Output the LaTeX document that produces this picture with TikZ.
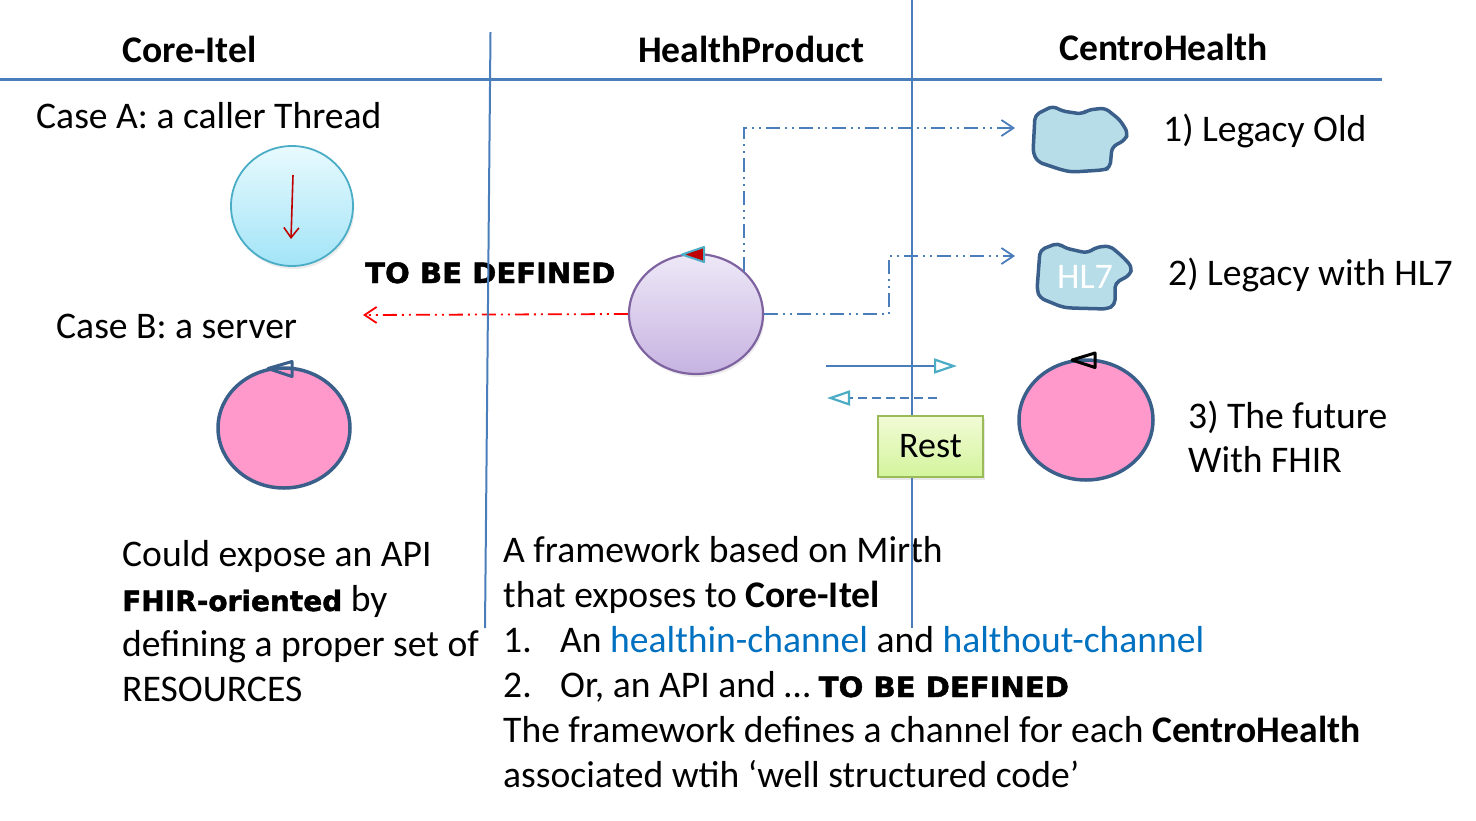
\documentclass[tikz,border=0pt]{standalone}
\usepackage{fontspec}
\setmainfont{Carlito}
\newfontfamily\blk{DejaVu Sans}[BoldFeatures={FakeBold=1.6}]
\usetikzlibrary{arrows.meta,shapes.geometric,shadows}
\definecolor{lineblue}{HTML}{4A7EBB}
\definecolor{tealc}{HTML}{4BACC6}
\definecolor{dkblue}{HTML}{3B5F8B}
\definecolor{pinkf}{HTML}{FF99CC}
\definecolor{cloudf}{HTML}{B7DEE8}
\definecolor{lavtop}{HTML}{EEE8F7}
\definecolor{lavbot}{HTML}{C6B3E1}
\definecolor{lavdraw}{HTML}{7E63A0}
\definecolor{cyantop}{HTML}{E8FAFE}
\definecolor{cyanbot}{HTML}{A2E4F7}
\definecolor{resttop}{HTML}{F2FBD6}
\definecolor{restbot}{HTML}{D3F49C}
\definecolor{restdraw}{HTML}{9BBB59}
\definecolor{linkblue}{HTML}{0070C0}
\definecolor{darkred}{HTML}{C00000}
\newcommand\txtsize{\fontsize{37.6}{45}\selectfont}
\newcommand\blksize{\fontsize{28}{34}\selectfont}
\newcommand\tbd{{\blk\bfseries\blksize\scalebox{1.04}[1]{TO BE DEFINED}}}
\tikzset{
  lbl/.style={anchor=base west, inner sep=0pt, font=\txtsize},
  head/.style={anchor=base west, inner sep=0pt, font=\txtsize\bfseries},
  sepline/.style={draw=lineblue, line width=2pt},
  pinkc/.style={ellipse, draw=dkblue, fill=pinkf, line width=3.5pt, minimum width=132pt, minimum height=120pt, inner sep=0pt},
  cyanc/.style={ellipse, draw=tealc, top color=cyantop, bottom color=cyanbot, line width=1.8pt, minimum width=122pt, minimum height=120pt, inner sep=0pt, drop shadow={opacity=0.15, shadow xshift=1.5pt, shadow yshift=-3pt}},
  lavc/.style={ellipse, draw=lavdraw, top color=lavtop, bottom color=lavbot, line width=2.2pt, minimum width=134pt, minimum height=120pt, inner sep=0pt, drop shadow={opacity=0.15, shadow xshift=1.5pt, shadow yshift=-3pt}},
  restbox/.style={rectangle, draw=restdraw, top color=resttop, bottom color=restbot, line width=2pt, minimum width=105pt, minimum height=61pt, inner sep=0pt, font=\fontsize{36}{40}\selectfont, drop shadow={opacity=0.18, shadow xshift=2pt, shadow yshift=-3pt}},
  cloud/.style={draw=dkblue, fill=cloudf, line width=3.5pt, rounded corners=5pt, line join=round},
  ddot/.style={line width=1.8pt, dash pattern=on 14pt off 5pt on 2pt off 5pt on 2pt off 5pt},
  barb/.style={-{Straight Barb[length=12pt,width=16pt,line width=1.8pt]}},
  tritip/.style={-{Triangle[length=23pt,width=15pt,color=tealc,fill=white,line width=2.2pt]}},
}
\begin{document}
\begin{tikzpicture}[x=1pt,y=-1pt]
\useasboundingbox (0,0) rectangle (1476,820);

% headings
\node[head] (h1) at (122,62) {Core-Itel};
\node[head] (h2) at (638,62) {HealthProduct};
\node[head] (h3) at (1059,60) {CentroHealth};

% left column
\node[lbl] (casea) at (36,128) {Case A: a caller Thread};
\node[cyanc] (ca) at (292,206) {};
\coordinate (ra1) at (293,175);
\coordinate (ra2) at (291,239);
\draw[darkred, line width=1.6pt, -{Straight Barb[length=10pt,width=15pt,line width=1.6pt]}] (ra1) -- (ra2);

\node[lbl] (caseb) at (56,338) {Case B: a server};
\node[pinkc] (cb) at (284,428) {};
\draw[dkblue, line width=3pt, line join=round] (268,368.5) -- (292,361.5) -- (292,376.5) -- cycle;

\node[lbl] (l1) at (122,566) {Could expose an API};
\node[lbl] (l2) at (122,611) {{\blk\bfseries\blksize FHIR-oriented} by};
\node[lbl] (l3) at (122,656) {defining a proper set of};
\node[lbl] (l4) at (122,701) {RESOURCES};

% middle
\node[anchor=base west, inner sep=0pt] (tbd1) at (365,283) {\tbd};
\node[lavc] (hp) at (696,314) {};
\draw[tealc, fill=darkred, line width=2pt, line join=round] (682,254.5) -- (704,247) -- (704,262) -- cycle;

\coordinate (redend) at (363,315);
\draw[red, ddot, barb] (hp.west) -- (redend);

\coordinate (leg1end) at (1015,128);
\coordinate (bend2) at (889,256);
\coordinate (leg2end) at (1015,256);
\draw[lineblue, ddot, barb] (hp.north east) |- (leg1end);
\draw[lineblue, ddot, barb] (hp.east) -| (bend2) -- (leg2end);

\node[lbl] (r1) at (503,562) {A framework based on Mirth};
\node[lbl] (r2) at (503,607) {that exposes to \textbf{Core-Itel}};
\node[lbl] (r3) at (503,652) {\makebox[57pt][l]{1.}An \textcolor{linkblue}{healthin-channel} and \textcolor{linkblue}{halthout-channel}};
\node[lbl] (r4) at (503,697) {\makebox[57pt][l]{2.}Or, an API and … \tbd};
\node[lbl] (r5) at (503,742) {The framework defines a channel for each \textbf{CentroHealth}};
\node[lbl] (r6) at (503,787) {associated wtih ‘well structured code’};

% separator lines
\coordinate (hl) at (0,79.5);
\coordinate (hr) at (1382,79.5);
\coordinate (v1t) at (490.5,32);
\coordinate (v1b) at (485,628);
\coordinate (v2t) at (912,0);
\coordinate (v2b) at (912,628);
\draw[sepline, line width=2.5pt] (hl) -- (hr);
\draw[sepline] (v1t) -- (v1b);
\draw[sepline] (v2t) -- (v2b);

% rest arrows
\coordinate (s1) at (826,366);
\coordinate (s2) at (957,366);
\coordinate (d1) at (937,398);
\coordinate (d2) at (827,398);
\draw[lineblue, line width=2pt, tritip] (s1) -- (s2);
\draw[lineblue, line width=2pt, dash pattern=on 9pt off 5pt, tritip] (d1) -- (d2);
\node[restbox] (rest) at (930.5,446.5) {Rest};

% right column
\draw[cloud] (1035,115) -- (1053,106) -- (1062,111) -- (1082,114) -- (1088,110) -- (1105,108) -- (1120,120) -- (1128,133) -- (1125,140) -- (1112,147) -- (1110,168) -- (1103,170) -- (1072,172) -- (1062,170) -- (1038,162) -- (1033,153) -- cycle;
\draw[cloud] (1040,250) -- (1058,243) -- (1065,248) -- (1087,253) -- (1097,247) -- (1110,246) -- (1123,257) -- (1132,267) -- (1130,275) -- (1115,283) -- (1115,305) -- (1107,309) -- (1070,308) -- (1062,307) -- (1040,298) -- (1037,290) -- cycle;
\node[inner sep=0pt, text=white, font=\fontsize{36}{40}\selectfont] (hl7) at (1085,277) {HL7};

\node[lbl] (t1) at (1163,141) {1) Legacy Old};
\node[lbl] (t2) at (1168,285) {2) Legacy with HL7};
\node[pinkc, minimum width=134pt] (fut) at (1086,420) {};
\draw[black, line width=3pt, line join=round] (1072,360) -- (1095,353) -- (1095,367.5) -- cycle;
\node[lbl] (t3) at (1188,428) {3) The future};
\node[lbl] (t4) at (1188,472) {With FHIR};
\end{tikzpicture}
\end{document}
